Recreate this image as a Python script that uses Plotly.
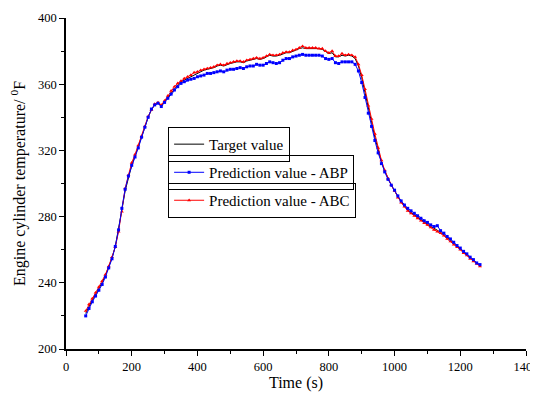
import plotly.graph_objects as go

time_s = list(range(60, 1261, 10))

target = [221.5, 226, 229.5, 233, 236.5, 240, 244.5, 249.5, 255, 262,
          272, 284, 295.5, 304, 311, 316.5, 322, 328, 334, 340,
          344.5, 347.5, 348.5, 347, 349.5, 352.5, 355, 357.5, 359.5, 361.5,
          362.5, 364, 365, 366, 367, 367.5, 368.5, 369, 369.5, 370,
          371, 371.5, 371, 372, 372.5, 373, 373.5, 373.5, 373, 374,
          374.5, 375, 375.5, 375, 375.5, 376.5, 377.5, 377, 377, 377.5,
          378.5, 379, 379, 380, 380.5, 381.5, 382, 381.5, 381.5, 381.5,
          381.5, 381.5, 381, 379.5, 378.5, 379, 376.5, 376.5, 377.5, 377,
          377.5, 377, 375.5, 371, 364, 355, 345, 337, 328, 320,
          313, 307.5, 303, 299, 295.5, 292, 289, 286.5, 284, 282.5,
          281, 279.5, 278, 277, 275.5, 274, 273, 272, 270.5, 269,
          267.5, 266, 264, 262, 260.5, 259, 257, 255, 253.5, 252, 250.5]

pred_abp = [220, 224.5, 228.5, 232, 235.5, 239, 243.5, 249, 254.5, 262,
            272, 285, 296.5, 304.5, 311, 316, 321.5, 328, 334, 340,
            345, 347.5, 348.5, 346.5, 349, 351.5, 354, 356.5, 358.5, 360.5,
            361.5, 362.5, 363, 363.5, 364.5, 365, 365.5, 366.5, 366.5, 367,
            367.5, 368, 367.5, 368.5, 369, 369, 369.5, 370, 369.5, 370.5,
            371, 371, 372, 371.5, 371.5, 372.5, 373.5, 373, 372.5, 373,
            374.5, 375.5, 375.5, 376.5, 377, 377.5, 378, 377.5, 377.5, 377.5,
            377.5, 377.5, 377, 375.5, 375, 375.5, 373, 372.5, 373.5, 373.5,
            373.5, 373.5, 372, 368, 361, 352, 342.5, 334.5, 326, 318.5,
            312, 307, 302.5, 299, 296, 292.5, 289.5, 287, 285, 283.5,
            282, 280.5, 279, 277.5, 276.5, 275, 274, 274.5, 271.5, 270,
            268, 266.5, 264.5, 262.5, 261, 259, 257.5, 255.5, 254, 252, 251]

pred_abc = [223, 227, 230.5, 234, 237.5, 241, 245, 250, 255.5, 261.5,
            271, 283, 297, 305, 312.5, 317.5, 323, 328.5, 334.5, 340.5,
            344.5, 348, 349, 347.5, 350, 353, 356, 358.5, 360.5, 362,
            363.5, 364.5, 365.5, 367, 367.5, 368.5, 369, 369.5, 370, 370.5,
            371.5, 372, 371.5, 372.5, 373, 373.5, 374, 374, 373.5, 374.5,
            375, 375.5, 376, 375.5, 376, 377, 378, 377.5, 377.5, 378,
            379, 379.5, 379.5, 380.5, 381, 382, 383, 382, 382, 382,
            382, 381.5, 381.5, 380, 379, 380, 377, 377, 378.5, 377.5,
            378, 377.5, 376.5, 372, 365.5, 357, 347, 339, 330, 321.5,
            314, 308, 303, 299, 295.5, 291.5, 288.5, 286, 283.5, 282,
            280.5, 279, 277.5, 276, 275, 273.5, 272, 271, 270, 268.5,
            266.5, 265, 263, 261.5, 260, 258, 256.5, 254.5, 253, 251.5, 250]

x_ticks = [0, 200, 400, 600, 800, 1000, 1200, 1400]
y_ticks = [200, 240, 280, 320, 360, 400]

FONT = "Liberation Serif"

fig = go.Figure()
fig.add_trace(go.Scatter(x=time_s, y=target, mode="lines", name="Target value",
                         line=dict(color="black", width=1), legend="legend"))
fig.add_trace(go.Scatter(x=time_s, y=pred_abc, mode="lines+markers", name="Prediction value - ABC",
                         line=dict(color="#ff0000", width=1),
                         marker=dict(symbol="triangle-up", size=3.5, color="#ff0000"),
                         legend="legend3"))
fig.add_trace(go.Scatter(x=time_s, y=pred_abp, mode="lines+markers", name="Prediction value - ABP",
                         line=dict(color="#0000ff", width=1),
                         marker=dict(symbol="square", size=3, color="#0000ff"),
                         legend="legend2"))

leg_common = dict(bgcolor="rgba(255,255,255,0)", bordercolor="black", borderwidth=1,
                  font=dict(family=FONT, size=15, color="black"),
                  xanchor="left", yanchor="top", tracegroupgap=0, itemwidth=30)

fig.update_layout(
    width=538, height=386,
    margin=dict(l=58, r=20, t=10, b=45, autoexpand=False),
    paper_bgcolor="white", plot_bgcolor="white",
    font=dict(family=FONT, size=12, color="black"),
    showlegend=True,
    legend=dict(x=0.222, y=0.671, **leg_common),
    legend2=dict(x=0.222, y=0.586, **leg_common),
    legend3=dict(x=0.222, y=0.5015, **leg_common),
    xaxis=dict(range=[0, 1400], tickvals=x_ticks, ticktext=[str(v) for v in x_ticks],
               automargin=False, ticklabeloverflow="allow",
               showgrid=False, zeroline=False, showline=True, linecolor="black", linewidth=1.5,
               ticks="outside", ticklen=5, tickwidth=1.2, tickcolor="black",
               minor=dict(dtick=100, ticks="outside", ticklen=3, tickcolor="black", showgrid=False),
               title=dict(text="Time (s)", font=dict(family=FONT, size=16), standoff=2),
               tickfont=dict(family=FONT, size=12.5)),
    yaxis=dict(range=[200, 400], tickvals=y_ticks, ticktext=[str(v) for v in y_ticks],
               automargin=False, ticklabeloverflow="allow",
               showgrid=False, zeroline=False, showline=True, linecolor="black", linewidth=1.5,
               ticks="outside", ticklen=5, tickwidth=1.2, tickcolor="black",
               minor=dict(dtick=20, ticks="outside", ticklen=3, tickcolor="black", showgrid=False),
               title=dict(text="Engine cylinder temperature/ <sup>0</sup>F", font=dict(family=FONT, size=16), standoff=12),
               tickfont=dict(family=FONT, size=12.5)),
)

fig.write_html("out.html")
